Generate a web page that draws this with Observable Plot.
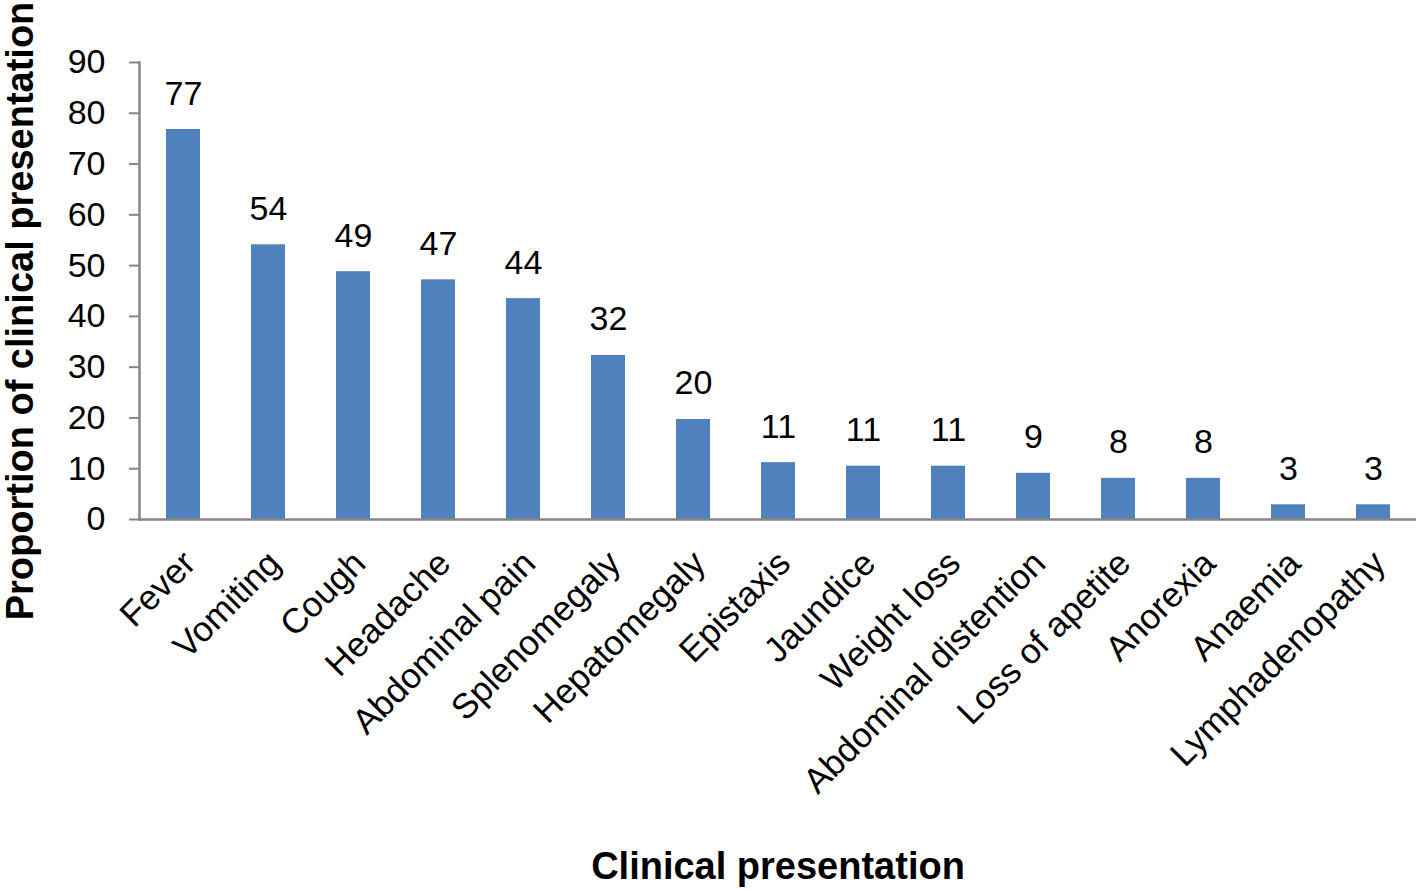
<!DOCTYPE html>
<html>
<head>
<meta charset="utf-8">
<script src="https://cdn.jsdelivr.net/npm/d3@7"></script>
<script src="https://cdn.jsdelivr.net/npm/@observablehq/plot@0.6"></script>
<style>
  html, body { margin: 0; padding: 0; background: #fff; }
  #chart svg { display: block; }
</style>
</head>
<body>
<div id="chart"></div>
<script>
const categories = ["Fever", "Vomiting", "Cough", "Headache", "Abdominal pain", "Splenomegaly", "Hepatomegaly", "Epistaxis", "Jaundice", "Weight loss", "Abdominal distention", "Loss of apetite", "Anorexia", "Anaemia", "Lymphadenopathy"];
const values = [76.8, 54.1, 48.8, 47.2, 43.5, 32.3, 19.7, 11.2, 10.5, 10.5, 9.1, 8.1, 8.1, 2.9, 2.9];
const valueLabels = ["77", "54", "49", "47", "44", "32", "20", "11", "11", "11", "9", "8", "8", "3", "3"];
const yTicks = [0, 10, 20, 30, 40, 50, 60, 70, 80, 90];
const xTitle = "Clinical presentation";
const yTitle = "Proportion of clinical presentation";

const data = categories.map((c, i) => ({category: c, value: values[i], label: valueLabels[i]}));

const font = "Liberation Sans, Arial, sans-serif";
const axisColor = "#868686";

const chart = Plot.plot({
  width: 1418,
  height: 890,
  marginLeft: 139,
  marginRight: 2,
  marginTop: 62,
  marginBottom: 371,
  style: {fontFamily: font, background: "#fff", color: "#000"},
  x: {domain: categories, paddingInner: 0.6, paddingOuter: 0.3, label: null},
  y: {domain: [0, 90], label: null},
  marks: [
    Plot.barY(data, {x: "category", y: "value", fill: "#4F81BD"}),
    Plot.frame({anchor: "left", stroke: axisColor, strokeWidth: 2.5}),
    Plot.ruleY([0], {stroke: axisColor, strokeWidth: 2.5}),
    Plot.axisY({ticks: yTicks, tickSize: 10, tickPadding: 24, stroke: axisColor, strokeWidth: 2, fontSize: 34, fill: "#000", label: null}),
    Plot.axisX({tickSize: 0, tickRotate: -45, tickPadding: 38, dx: 6, fontSize: 35, fill: "#000", label: null}),
    Plot.text(data, {x: "category", y: "value", text: "label", lineAnchor: "bottom", dy: -25, fontSize: 34, fill: "#000"}),
    Plot.text([xTitle], {frameAnchor: "bottom", dy: 359, fontSize: 38, fontWeight: "bold", fill: "#000"}),
    Plot.text([yTitle], {frameAnchor: "left", textAnchor: "middle", rotate: -90, dx: -119, dy: 20, fontSize: 38, fontWeight: "bold", fill: "#000"})
  ]
});
document.getElementById("chart").appendChild(chart);
</script>
</body>
</html>
